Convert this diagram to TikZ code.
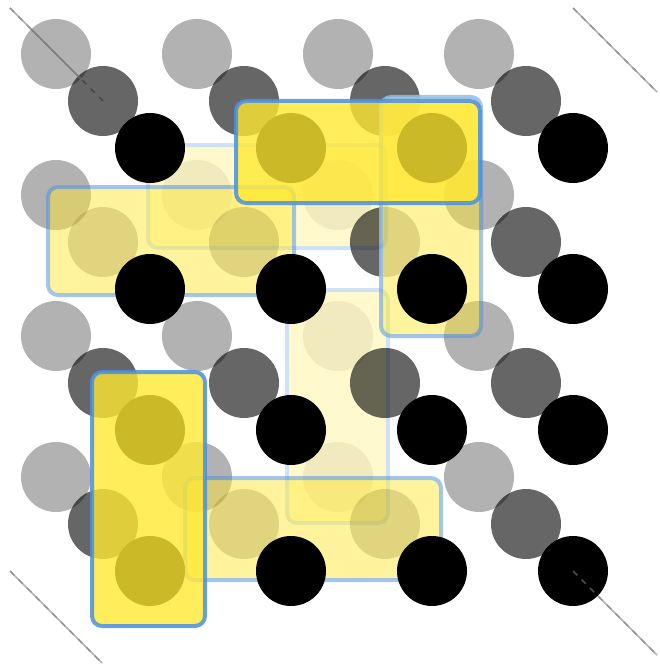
\documentclass[tikz,border=0pt]{standalone}
\begin{document}
\begin{tikzpicture}[x=1pt,y=-1pt]
\definecolor{domyellow}{RGB}{255,232,50}
\definecolor{domblue}{RGB}{74,144,226}
\tikzset{
  dot/.style={fill=black, fill opacity=1},
  dom/.style={rounded corners=10pt, line width=4pt, fill=domyellow, draw=domblue,
              fill opacity=0.8, draw opacity=0.85},
  edgesolid/.style={draw=black, draw opacity=0.3, line width=1.6pt},
  edgedash/.style={draw=gray, draw opacity=0.6, line width=1.6pt, dash pattern=on 6pt off 6pt}
}
\useasboundingbox (0,0) rectangle (659,666);
% edge coordinates
\coordinate (tla) at (10,8);   \coordinate (tlb) at (103,101);
\coordinate (tra) at (573,8);  \coordinate (trb) at (657,92);
\coordinate (bla) at (10,571); \coordinate (blb) at (102,663);
\coordinate (bra) at (573,571);\coordinate (brb) at (657,655);
% back layer
\begin{scope}[transparency group, opacity=0.3]
  \foreach \i in {0,...,3} \foreach \j in {0,...,3}
    \fill[dot] ({56+141*\i},{54+141*\j}) circle[radius=35pt];
  \path[dom] (148,145) rectangle (386,248);
  \path[dom] (287,290) rectangle (388,523);
\end{scope}
% solid edges
\draw[edgesolid] (tla) -- (tlb);
\draw[edgesolid] (tra) -- (trb);
\draw[edgesolid] (bla) -- (blb);
\draw[edgesolid] (bra) -- (brb);
% middle layer
\begin{scope}[transparency group, opacity=0.6]
  \foreach \i in {0,...,3} \foreach \j in {0,...,3}
    \fill[dot] ({103+141*\i},{101+141*\j}) circle[radius=35pt];
  \path[dom] (48,187) rectangle (294,295);
  \path[dom] (381,97) rectangle (481,336);
  \path[dom] (185,478) rectangle (441,580);
\end{scope}
% front layer
\foreach \i in {0,...,3} \foreach \j in {0,...,3}
  \fill[dot] ({150+141*\i},{148+141*\j}) circle[radius=35pt];
\path[dom] (236,101) rectangle (480,203);
\path[dom] (92,372) rectangle (205,626);
% dashed edges on top
\draw[edgedash] (tla) -- (tlb);
\draw[edgedash] (tra) -- (trb);
\draw[edgedash] (bla) -- (blb);
\draw[edgedash] (bra) -- (brb);
\end{tikzpicture}
\end{document}
